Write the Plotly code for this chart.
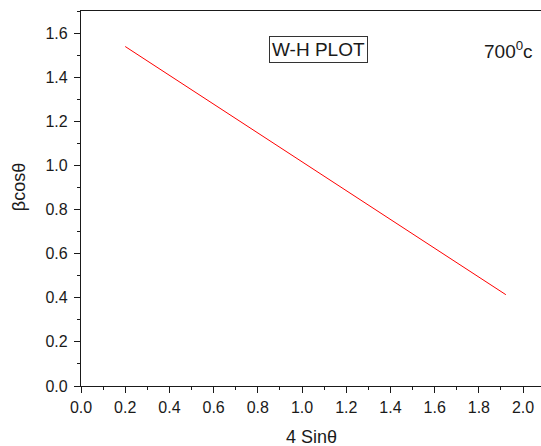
import plotly.graph_objects as go

x_vals = [0.2, 1.922]
y_vals = [1.539, 0.414]
x_ticks = [0.0, 0.2, 0.4, 0.6, 0.8, 1.0, 1.2, 1.4, 1.6, 1.8, 2.0]
y_ticks = [0.0, 0.2, 0.4, 0.6, 0.8, 1.0, 1.2, 1.4, 1.6]

FONT = "Arial, Liberation Sans, sans-serif"

fig = go.Figure()
fig.add_trace(go.Scatter(x=x_vals, y=y_vals, mode="lines",
                         line=dict(color="#ff0000", width=1), showlegend=False))

fig.update_layout(
    width=541, height=446,
    margin=dict(l=81, r=0, t=11, b=60),
    paper_bgcolor="white", plot_bgcolor="white",
    font=dict(family=FONT, color="#1a1a1a", size=16),
    xaxis=dict(range=[0, 2.081], tickvals=x_ticks,
               ticktext=[f"{v:.1f}" for v in x_ticks],
               ticks="outside", ticklen=6, tickwidth=1, tickcolor="#1a1a1a",
               showline=True, linecolor="#1a1a1a", linewidth=1.3, mirror=True,
               showgrid=False, zeroline=False, ticklabelstandoff=1,
               minor=dict(dtick=0.1, tick0=0, ticks="outside", ticklen=3,
                          tickcolor="#1a1a1a", tickwidth=1),
               tickfont=dict(size=16, family=FONT)),
    yaxis=dict(range=[0, 1.7], tickvals=y_ticks,
               ticktext=[f"{v:.1f}" for v in y_ticks],
               ticks="outside", ticklen=6, tickwidth=1, tickcolor="#1a1a1a",
               showline=True, linecolor="#1a1a1a", linewidth=1.3, mirror=False,
               showgrid=False, zeroline=False, ticklabelstandoff=3,
               minor=dict(dtick=0.1, tick0=0, ticks="outside", ticklen=3,
                          tickcolor="#1a1a1a", tickwidth=1),
               tickfont=dict(size=16, family=FONT)),
    annotations=[
        dict(text="4 Sinθ", xref="paper", yref="paper", x=0.5, y=-0.105,
             xanchor="center", yanchor="top", showarrow=False,
             font=dict(size=18, family=FONT)),
        dict(text="βcosθ", xref="paper", yref="paper", x=-0.135, y=0.53,
             xanchor="center", yanchor="middle", showarrow=False, textangle=-90,
             font=dict(size=18, family=FONT)),
        dict(text="W-H PLOT", xref="paper", yref="paper", x=(318.5 - 81) / 460,
             y=(386 - 49.5) / 375, xanchor="center", yanchor="middle",
             showarrow=False, bordercolor="#333333", borderwidth=1, borderpad=2,
             font=dict(size=19, family=FONT)),
        dict(text="700<sup>0</sup>c", xref="paper", yref="paper",
             x=(508 - 81) / 460, y=(386 - 49.5) / 375, xanchor="center",
             yanchor="middle", showarrow=False,
             font=dict(size=19, family=FONT)),
    ],
)

fig.write_html("out.html")
